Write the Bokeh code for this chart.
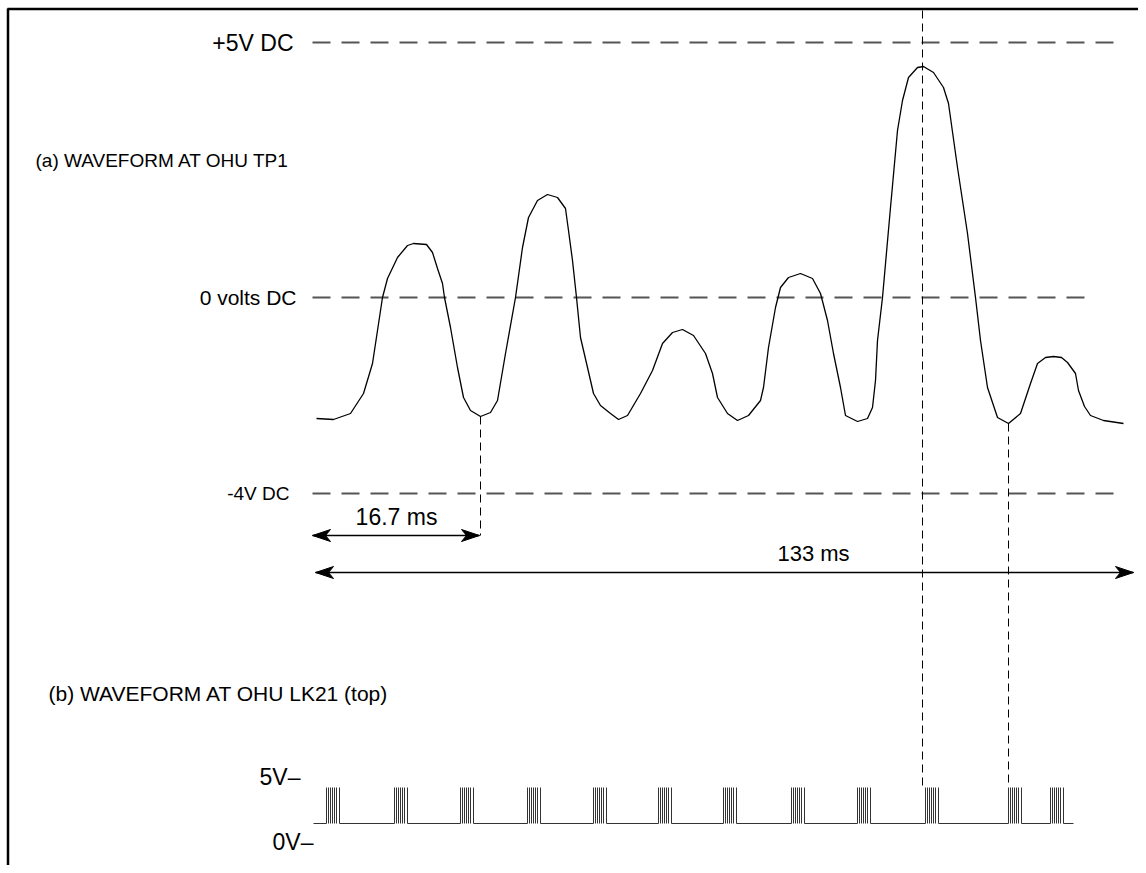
from bokeh.plotting import figure
from bokeh.models import Range1d
from bokeh.core.properties import value
from bokeh.embed import file_html
from bokeh.resources import INLINE

# ---------------- data (drawing units) ----------------
# (a) waveform at OHU TP1
wave_x = [316, 333, 350, 363, 372, 382, 387, 397, 407, 413, 426, 432, 437, 442, 444,
          450, 457, 463, 470, 480, 490, 497, 505, 515, 522, 528, 537, 547, 557, 565,
          568, 572, 576, 580, 587, 593, 600, 610, 618, 627, 640, 652, 662, 672, 682,
          693, 705, 712, 717, 727, 737, 748, 760, 763, 768, 775, 780, 788, 800, 812,
          820, 827, 833, 840, 845, 857, 867, 872, 875, 877, 882, 890, 897, 902, 908,
          917, 923, 933, 943, 948, 957, 967, 975, 980, 987, 997, 1008, 1020, 1030,
          1037, 1045, 1053, 1061, 1067, 1075, 1078, 1084, 1090, 1103, 1123]
wave_y = [418, 419, 413, 393, 363, 297, 278, 257, 245, 243, 244, 252, 268, 283, 297,
          327, 367, 397, 410, 416, 412, 400, 353, 297, 247, 217, 200, 194, 197, 208,
          230, 260, 297, 337, 367, 393, 405, 413, 419, 415, 393, 370, 343, 332, 329,
          335, 353, 373, 397, 413, 420, 415, 400, 387, 347, 307, 287, 277, 273, 278,
          293, 320, 353, 387, 415, 421, 418, 407, 380, 340, 297, 207, 130, 100, 77,
          67, 66, 72, 87, 103, 167, 233, 297, 340, 387, 417, 423, 413, 383, 363,
          357, 356, 357, 362, 373, 390, 406, 415, 420, 423]

# reference levels
level_labels = ["+5V DC", "0 volts DC", "-4V DC"]
level_y = [42, 297, 493]
level_x0 = [312, 312, 312]
level_x1 = [1118, 1090, 1118]
level_label_x = [293, 296, 289]

# marker (vertical) lines
mark_x = [480, 922, 1008]
mark_y0 = [416, 10, 423]
mark_y1 = [535, 787, 787]

# time spans
span_labels = ["16.7 ms", "133 ms"]
span_x0 = [312, 315]
span_x1 = [479, 1133]
span_y = [535, 572]
span_label_x = [396, 813]
span_label_y = [516, 553]

# (b) waveform at OHU LK21: burst start positions
burst_x = [326, 394, 460, 527, 593, 658, 723, 791, 857, 925, 1008, 1050]
burst_offsets = [0, 2, 4, 6, 8, 10, 13]
pulse_low = 823
pulse_high = 787
pulse_x_start = 313
pulse_x_end = 1073

# titles / axis labels
titles = ["(a) WAVEFORM AT OHU TP1", "(b) WAVEFORM AT OHU LK21 (top)"]
title_x = [35, 48]
title_y = [160, 693]
b_labels = ["5V\u2013", "0V\u2013"]
b_label_x = [300, 313]
b_label_y = [776, 841]

# ---------------- figure ----------------
W, H = 1138, 865
p = figure(width=W, height=H, x_range=Range1d(0, W), y_range=Range1d(H, 0),
           output_backend="svg", toolbar_location=None, min_border=0)
p.axis.visible = False
p.grid.visible = False
p.outline_line_color = None
p.background_fill_color = "white"

FONT = value("Liberation Sans")

def label(xs, ys, texts, size, align):
    p.text(x=xs, y=ys, text=texts, text_align=align, text_baseline="middle",
           text_font=FONT, text_font_size=size, text_color="black")

# frame (top and left edges)
p.segment(x0=[7, 7.5], y0=[8.5, 8], x1=[W, 7.5], y1=[8.5, H], line_color="black", line_width=2.5)

# dashed reference levels
p.segment(x0=level_x0, y0=level_y, x1=level_x1, y1=level_y,
          line_color="#555555", line_width=1.8, line_dash="18 11")
label([level_label_x[0]], [level_y[0]], [level_labels[0]], "23px", "right")
label([level_label_x[1]], [level_y[1]], [level_labels[1]], "21px", "right")
label([level_label_x[2]], [level_y[2]], [level_labels[2]], "19px", "right")

# vertical marker lines
p.segment(x0=mark_x, y0=mark_y0, x1=mark_x, y1=mark_y1,
          line_color="black", line_width=1, line_dash="8 5")

# waveform (a)
p.line(wave_x, wave_y, line_color="black", line_width=1.3)

# time span arrows
p.segment(x0=span_x0, y0=span_y, x1=span_x1, y1=span_y, line_color="black", line_width=1.3)
L, Wd, N = 18, 6, 5
hx, hy = [], []
for a, b, y in zip(span_x0, span_x1, span_y):
    hx.append([a, a + L, a + L - N, a + L])
    hy.append([y, y - Wd, y, y + Wd])
    hx.append([b, b - L, b - L + N, b - L])
    hy.append([y, y - Wd, y, y + Wd])
p.patches(hx, hy, fill_color="black", line_color="black", line_width=1)
label([span_label_x[0]], [span_label_y[0]], [span_labels[0]], "23px", "center")
label([span_label_x[1]], [span_label_y[1]], [span_labels[1]], "22px", "center")

# pulse train (b)
bx0, by0, bx1, by1 = [], [], [], []
prev = pulse_x_start
for bx in burst_x:
    bx0.append(prev); by0.append(pulse_low); bx1.append(bx); by1.append(pulse_low)
    for o in burst_offsets:
        bx0.append(bx + o); by0.append(pulse_low); bx1.append(bx + o); by1.append(pulse_high)
    prev = bx + burst_offsets[-1]
bx0.append(prev); by0.append(pulse_low); bx1.append(pulse_x_end); by1.append(pulse_low)
p.segment(x0=bx0, y0=by0, x1=bx1, y1=by1, line_color="#333333", line_width=1)

# titles and labels
label([title_x[0]], [title_y[0]], [titles[0]], "19px", "left")
label([title_x[1]], [title_y[1]], [titles[1]], "21px", "left")
label(b_label_x, b_label_y, b_labels, "23px", "right")

open("out.html", "w").write(file_html(p, INLINE))
